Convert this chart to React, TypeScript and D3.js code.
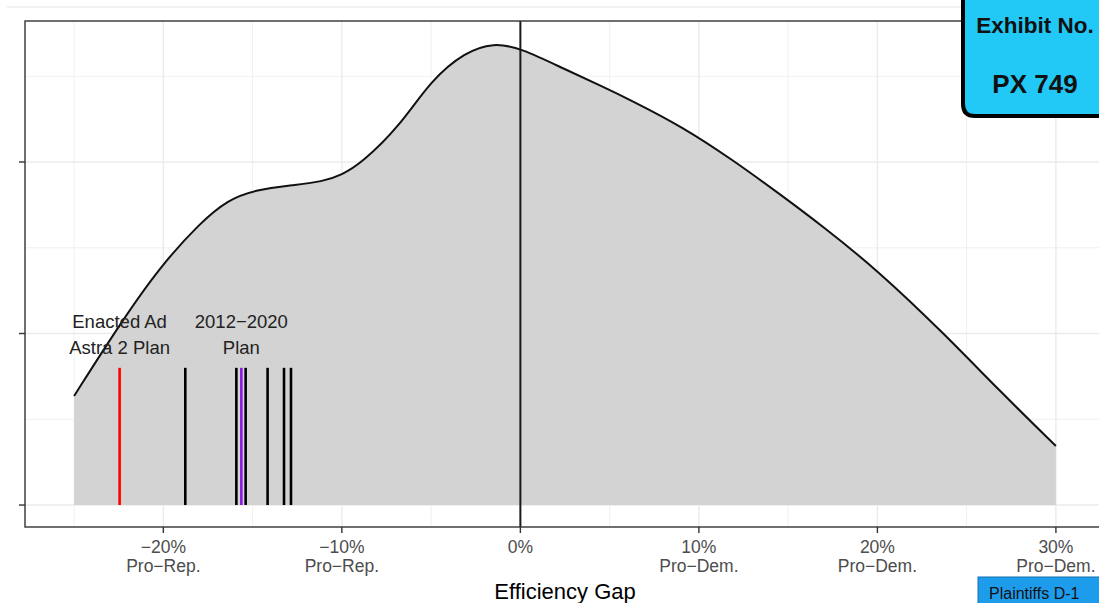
import React, { useEffect, useRef } from "react";
import * as d3 from "d3";

// estimated density curve (efficiency gap in %, relative density)
const gapPct = [-25, -22.4, -20.2, -17.9, -16.4, -14.9, -12.7, -11.1, -10, -8.9, -6.8, -5, -3.1, -1.5, 0, 2.5, 4.5, 6.2, 9.1, 11.9, 14.7, 16.9, 20, 23.7, 26.9, 30];
const density = [0.636, 1.061, 1.388, 1.65, 1.778, 1.837, 1.866, 1.885, 1.925, 1.994, 2.204, 2.478, 2.641, 2.695, 2.665, 2.54, 2.445, 2.36, 2.204, 2.012, 1.8, 1.628, 1.37, 1.003, 0.66, 0.344];

// individual plans
const planGaps = [-22.45, -18.77, -15.91, -15.39, -14.16, -13.24, -12.85, -15.63];
const planKinds = ["enacted", "alt", "alt", "alt", "alt", "alt", "alt", "benchmark"];
const planTop = 0.8;

const xMajor = [-20, -10, 0, 10, 20, 30];
const xMinor = [-25, -15, -5, 5, 15, 25];
const xTickText = ["\u221220%", "\u221210%", "0%", "10%", "20%", "30%"];
const xTickSub = ["Pro\u2212Rep.", "Pro\u2212Rep.", "", "Pro\u2212Dem.", "Pro\u2212Dem.", "Pro\u2212Dem."];
const yMajor = [0, 1, 2];
const yMinor = [0.5, 1.5, 2.5];

const planLabels = [
  { at: -22.45, lines: ["Enacted Ad", "Astra 2 Plan"] },
  { at: -15.63, lines: ["2012\u22122020", "Plan"] },
];

const kindColor: Record<string, string> = { enacted: "#ff0000", alt: "#000000", benchmark: "#8a17e6" };

export default function App() {
  const svgRef = useRef<SVGSVGElement>(null);

  useEffect(() => {
    if (!svgRef.current) return;
    const svg = d3.select(svgRef.current);
    svg.selectAll("*").remove();

    const W = 1099, H = 603;
    const left = 25, right = 1105, top = 21, bottom = 527;
    const font = "'Liberation Sans', Arial, Helvetica, sans-serif";

    const x = d3.scaleLinear().domain([-27.75, 32.75]).range([left, right]);
    const y = d3.scaleLinear().domain([-0.128, 2.822]).range([bottom, top]);

    svg.append("rect").attr("width", W).attr("height", H).attr("fill", "#fff");
    // faint page edge
    svg.append("line").attr("x1", 7).attr("x2", W).attr("y1", 7).attr("y2", 7)
      .attr("stroke", "#ececec").attr("stroke-width", 1.5);

    const g = svg.append("g");

    // grid
    xMinor.forEach((v) => g.append("line").attr("x1", x(v)).attr("x2", x(v)).attr("y1", top).attr("y2", bottom)
      .attr("stroke", "#f0f0f0").attr("stroke-width", 1));
    yMinor.forEach((v) => g.append("line").attr("x1", left).attr("x2", right).attr("y1", y(v)).attr("y2", y(v))
      .attr("stroke", "#f0f0f0").attr("stroke-width", 1));
    xMajor.forEach((v) => g.append("line").attr("x1", x(v)).attr("x2", x(v)).attr("y1", top).attr("y2", bottom)
      .attr("stroke", "#ebebeb").attr("stroke-width", 1.4));
    yMajor.forEach((v) => g.append("line").attr("x1", left).attr("x2", right).attr("y1", y(v)).attr("y2", y(v))
      .attr("stroke", "#ebebeb").attr("stroke-width", 1.4));

    const pts: [number, number][] = gapPct.map((v, i) => [v, density[i]]);
    const curve = d3.curveBasis;
    const area = d3.area<[number, number]>()
      .x((d) => x(d[0])).y0(y(0)).y1((d) => y(d[1]))
      .curve(curve);
    const line = d3.line<[number, number]>()
      .x((d) => x(d[0])).y((d) => y(d[1]))
      .curve(curve);

    g.append("path").datum(pts).attr("d", area).attr("fill", "#d3d3d3");
    g.append("path").datum(pts).attr("d", line).attr("fill", "none")
      .attr("stroke", "#111").attr("stroke-width", 2);

    // plan segments
    planGaps.forEach((v, i) => {
      g.append("line").attr("x1", x(v)).attr("x2", x(v)).attr("y1", y(0)).attr("y2", y(planTop))
        .attr("stroke", kindColor[planKinds[i]]).attr("stroke-width", 2.6);
    });

    // zero line
    g.append("line").attr("x1", x(0)).attr("x2", x(0)).attr("y1", top).attr("y2", bottom)
      .attr("stroke", "#1a1a1a").attr("stroke-width", 2);

    // plan labels
    planLabels.forEach((p) => {
      p.lines.forEach((t, j) => {
        g.append("text").attr("x", x(p.at)).attr("y", 328 + j * 26)
          .attr("text-anchor", "middle").attr("font-family", font).attr("font-size", 18.5)
          .attr("fill", "#222").text(t);
      });
    });

    // panel border
    g.append("rect").attr("x", left).attr("y", top).attr("width", right - left).attr("height", bottom - top)
      .attr("fill", "none").attr("stroke", "#333").attr("stroke-width", 1.4);

    // y ticks
    yMajor.forEach((v) => g.append("line").attr("x1", left - 6).attr("x2", left).attr("y1", y(v)).attr("y2", y(v))
      .attr("stroke", "#333").attr("stroke-width", 1.4));

    // x ticks and labels
    xMajor.forEach((v, i) => {
      g.append("line").attr("x1", x(v)).attr("x2", x(v)).attr("y1", bottom).attr("y2", bottom + 6)
        .attr("stroke", "#333").attr("stroke-width", 1.4);
      g.append("text").attr("x", x(v)).attr("y", 553).attr("text-anchor", "middle")
        .attr("font-family", font).attr("font-size", 17.5).attr("fill", "#4d4d4d").text(xTickText[i]);
      if (xTickSub[i]) {
        g.append("text").attr("x", x(v)).attr("y", 572).attr("text-anchor", "middle")
          .attr("font-family", font).attr("font-size", 17.5).attr("fill", "#4d4d4d").text(xTickSub[i]);
      }
    });

    svg.append("text").attr("x", (left + right) / 2).attr("y", 599).attr("text-anchor", "middle")
      .attr("font-family", font).attr("font-size", 22).attr("fill", "#000").text("Efficiency Gap");

    // exhibit sticker
    const ex = svg.append("g");
    ex.append("path")
      .attr("d", "M963,-10 L963,104 Q963,116 975,116 L1110,116 L1110,-10 Z")
      .attr("fill", "#22c8f6").attr("stroke", "#000").attr("stroke-width", 4);
    ex.append("text").attr("x", 1035).attr("y", 33).attr("text-anchor", "middle")
      .attr("font-family", font).attr("font-weight", "bold").attr("font-size", 22.5).attr("fill", "#111")
      .text("Exhibit No.");
    ex.append("text").attr("x", 1035).attr("y", 93).attr("text-anchor", "middle")
      .attr("font-family", font).attr("font-weight", "bold").attr("font-size", 26).attr("fill", "#111")
      .text("PX 749");

    // plaintiffs tag
    svg.append("rect").attr("x", 978).attr("y", 577).attr("width", 130).attr("height", 30)
      .attr("fill", "#1e9cec").attr("stroke", "#1570b0").attr("stroke-width", 1);
    svg.append("text").attr("x", 989).attr("y", 599).attr("font-family", font).attr("font-size", 16)
      .attr("fill", "#111").text("Plaintiffs D-1");
  }, []);

  return (
    <svg ref={svgRef} width={1099} height={603}
      style={{ position: "absolute", left: 0, top: 0, display: "block" }} />
  );
}
